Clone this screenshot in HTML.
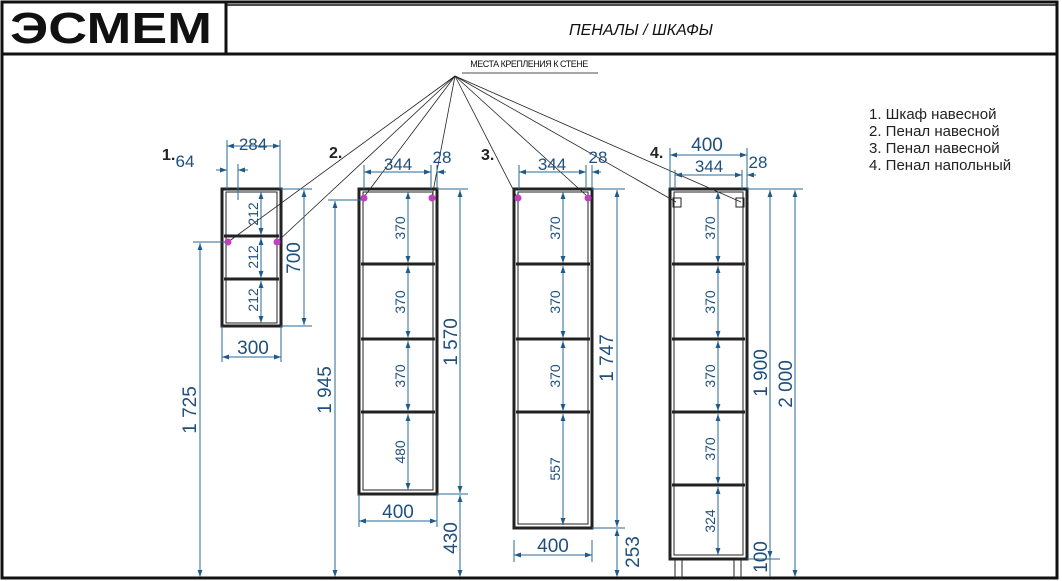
<!DOCTYPE html>
<html><head><meta charset="utf-8"><style>
html,body{margin:0;padding:0;background:#fff;}
svg{display:block;}
.d{stroke:#2a6a96;stroke-width:1;fill:none;}
.t{font-family:"Liberation Sans",sans-serif;fill:#1f4f7d;}
.c{stroke:#222;fill:none;}
</style></head><body>
<svg width="1062" height="581" viewBox="0 0 1062 581" xmlns="http://www.w3.org/2000/svg">
<defs>
<marker id="a" viewBox="0 0 10 10" refX="10" refY="5" markerWidth="7" markerHeight="7" orient="auto-start-reverse"><path d="M0,1.5 L10,5 L0,8.5 z" fill="#1f5a8a"/></marker>
</defs>
<rect x="2" y="2" width="1055" height="576" fill="none" stroke="#111" stroke-width="3"/>
<line x1="2" y1="54" x2="1057" y2="54" stroke="#111" stroke-width="3"/>
<line x1="226" y1="2" x2="226" y2="54" stroke="#111" stroke-width="3"/>
<line x1="226" y1="5" x2="1057" y2="5" stroke="#111" stroke-width="1.5"/>
<text x="10" y="43" style="font-family:'Liberation Sans',sans-serif;font-weight:bold;font-size:44px" fill="#111" textLength="202" lengthAdjust="spacingAndGlyphs">ЭСМЕМ</text>
<text x="641" y="35" text-anchor="middle" style="font-family:'Liberation Sans',sans-serif;font-style:italic;font-size:16px" fill="#111">ПЕНАЛЫ / ШКАФЫ</text>
<text x="529" y="67" text-anchor="middle" style="font-family:'Liberation Sans',sans-serif;font-size:9px;letter-spacing:-0.5px" fill="#111">МЕСТА КРЕПЛЕНИЯ К СТЕНЕ</text>
<line x1="462" y1="73" x2="598" y2="73" stroke="#111" stroke-width="0.8"/>
<g stroke="#222" stroke-width="0.8">
<line x1="455" y1="76" x2="228" y2="242"/><line x1="455" y1="76" x2="277" y2="242"/>
<line x1="455" y1="76" x2="364" y2="197"/><line x1="455" y1="76" x2="432" y2="197"/>
<line x1="455" y1="76" x2="517" y2="197"/><line x1="455" y1="76" x2="588" y2="197"/>
<line x1="455" y1="76" x2="676" y2="202"/><line x1="455" y1="76" x2="741" y2="202"/>
</g>
<g style="font-family:'Liberation Sans',sans-serif;font-size:15px" fill="#222">
<text x="869" y="119">1. Шкаф навесной</text><text x="869" y="136">2. Пенал навесной</text>
<text x="869" y="153">3. Пенал навесной</text><text x="869" y="170">4. Пенал напольный</text>
</g>
<g style="font-family:'Liberation Sans',sans-serif;font-size:16px;font-weight:bold" fill="#222">
<text x="162" y="160">1.</text><text x="329" y="158">2.</text><text x="481" y="160">3.</text><text x="650" y="158">4.</text>
</g>
<line x1="2" y1="578" x2="1057" y2="578" stroke="#111" stroke-width="3"/>

<rect x="222" y="189" width="59" height="137" class="c" stroke-width="3"/>
<rect x="226" y="192" width="51" height="131" class="c" stroke-width="1"/>
<line x1="224" y1="236" x2="279" y2="236" class="c" stroke-width="3"/>
<line x1="224" y1="279" x2="279" y2="279" class="c" stroke-width="3"/>
<circle cx="228" cy="242" r="3.5" fill="#c040c0"/><circle cx="277" cy="242" r="3.5" fill="#c040c0"/>
<rect x="359" y="189" width="78" height="305" class="c" stroke-width="3"/>
<rect x="363" y="192" width="70" height="298" class="c" stroke-width="1"/>
<line x1="361" y1="264" x2="435" y2="264" class="c" stroke-width="3"/>
<line x1="361" y1="339" x2="435" y2="339" class="c" stroke-width="3"/>
<line x1="361" y1="412" x2="435" y2="412" class="c" stroke-width="3"/>
<circle cx="364" cy="198" r="3.5" fill="#c040c0"/><circle cx="432" cy="198" r="3.5" fill="#c040c0"/>
<rect x="514" y="189" width="78" height="339" class="c" stroke-width="3"/>
<rect x="518" y="192" width="70" height="332" class="c" stroke-width="1"/>
<line x1="516" y1="264" x2="590" y2="264" class="c" stroke-width="3"/>
<line x1="516" y1="339" x2="590" y2="339" class="c" stroke-width="3"/>
<line x1="516" y1="412" x2="590" y2="412" class="c" stroke-width="3"/>
<circle cx="518" cy="198" r="3.5" fill="#c040c0"/><circle cx="588" cy="198" r="3.5" fill="#c040c0"/>
<rect x="670" y="189" width="77" height="370" class="c" stroke-width="3"/>
<rect x="674" y="192" width="69" height="363" class="c" stroke-width="1"/>
<line x1="672" y1="264" x2="745" y2="264" class="c" stroke-width="3"/>
<line x1="672" y1="339" x2="745" y2="339" class="c" stroke-width="3"/>
<line x1="672" y1="412" x2="745" y2="412" class="c" stroke-width="3"/>
<line x1="672" y1="485" x2="745" y2="485" class="c" stroke-width="3"/>
<rect x="673" y="198" width="8" height="9" class="c" stroke-width="1"/><rect x="736" y="198" width="8" height="9" class="c" stroke-width="1"/>
<rect x="675" y="560" width="7" height="18" class="c" stroke-width="1"/><rect x="734" y="560" width="7" height="18" class="c" stroke-width="1"/>

<g class="d">
<line x1="227" y1="140" x2="227" y2="189"/><line x1="280" y1="140" x2="280" y2="189"/>
<line x1="227" y1="146" x2="280" y2="146" marker-start="url(#a)" marker-end="url(#a)"/>
<line x1="238" y1="164" x2="238" y2="200"/>
<line x1="216" y1="170" x2="227" y2="170" marker-end="url(#a)"/><line x1="238" y1="170" x2="248" y2="170" marker-start="url(#a)"/>
<line x1="281" y1="189" x2="312" y2="189"/><line x1="281" y1="326" x2="312" y2="326"/>
<line x1="304" y1="190" x2="304" y2="325" marker-start="url(#a)" marker-end="url(#a)"/>
<line x1="261" y1="192" x2="261" y2="235" marker-start="url(#a)" marker-end="url(#a)"/>
<line x1="261" y1="238" x2="261" y2="278" marker-start="url(#a)" marker-end="url(#a)"/>
<line x1="261" y1="281" x2="261" y2="323" marker-start="url(#a)" marker-end="url(#a)"/>
<line x1="222" y1="326" x2="222" y2="362"/><line x1="281" y1="326" x2="281" y2="362"/>
<line x1="222" y1="357" x2="281" y2="357" marker-start="url(#a)" marker-end="url(#a)"/>
<line x1="193" y1="242" x2="226" y2="242"/>
<line x1="200" y1="243" x2="200" y2="577" marker-start="url(#a)" marker-end="url(#a)"/>
<line x1="364" y1="165" x2="364" y2="189"/><line x1="431" y1="165" x2="431" y2="189"/><line x1="437" y1="165" x2="437" y2="189"/>
<line x1="364" y1="172" x2="431" y2="172" marker-start="url(#a)" marker-end="url(#a)"/>
<line x1="437" y1="172" x2="446" y2="172" marker-start="url(#a)"/>
<line x1="437" y1="189" x2="468" y2="189"/><line x1="437" y1="494" x2="468" y2="494"/>
<line x1="460" y1="190" x2="460" y2="493" marker-start="url(#a)" marker-end="url(#a)"/>
<line x1="460" y1="495" x2="460" y2="577" marker-start="url(#a)" marker-end="url(#a)"/>
<line x1="328" y1="200" x2="362" y2="200"/>
<line x1="335" y1="201" x2="335" y2="577" marker-start="url(#a)" marker-end="url(#a)"/>
<line x1="408" y1="192" x2="408" y2="263" marker-start="url(#a)" marker-end="url(#a)"/>
<line x1="408" y1="266" x2="408" y2="338" marker-start="url(#a)" marker-end="url(#a)"/>
<line x1="408" y1="341" x2="408" y2="411" marker-start="url(#a)" marker-end="url(#a)"/>
<line x1="408" y1="414" x2="408" y2="490" marker-start="url(#a)" marker-end="url(#a)"/>
<line x1="359" y1="494" x2="359" y2="527"/><line x1="437" y1="494" x2="437" y2="527"/>
<line x1="359" y1="521" x2="437" y2="521" marker-start="url(#a)" marker-end="url(#a)"/>
<line x1="519" y1="165" x2="519" y2="189"/><line x1="586" y1="165" x2="586" y2="189"/><line x1="592" y1="165" x2="592" y2="189"/>
<line x1="519" y1="172" x2="586" y2="172" marker-start="url(#a)" marker-end="url(#a)"/>
<line x1="592" y1="172" x2="601" y2="172" marker-start="url(#a)"/>
<line x1="592" y1="189" x2="625" y2="189"/><line x1="592" y1="528" x2="625" y2="528"/>
<line x1="617" y1="190" x2="617" y2="527" marker-start="url(#a)" marker-end="url(#a)"/>
<line x1="617" y1="529" x2="617" y2="577" marker-start="url(#a)" marker-end="url(#a)"/>
<line x1="563" y1="192" x2="563" y2="263" marker-start="url(#a)" marker-end="url(#a)"/>
<line x1="563" y1="266" x2="563" y2="338" marker-start="url(#a)" marker-end="url(#a)"/>
<line x1="563" y1="341" x2="563" y2="411" marker-start="url(#a)" marker-end="url(#a)"/>
<line x1="563" y1="414" x2="563" y2="525" marker-start="url(#a)" marker-end="url(#a)"/>
<line x1="514" y1="540" x2="514" y2="562"/><line x1="592" y1="540" x2="592" y2="562"/>
<line x1="514" y1="555" x2="592" y2="555" marker-start="url(#a)" marker-end="url(#a)"/>
<line x1="670" y1="148" x2="670" y2="189"/><line x1="747" y1="148" x2="747" y2="189"/>
<line x1="670" y1="155" x2="747" y2="155" marker-start="url(#a)" marker-end="url(#a)"/>
<line x1="675" y1="170" x2="675" y2="189"/><line x1="742" y1="170" x2="742" y2="189"/>
<line x1="675" y1="175" x2="742" y2="175" marker-start="url(#a)" marker-end="url(#a)"/>
<line x1="747" y1="175" x2="756" y2="175" marker-start="url(#a)"/>
<line x1="747" y1="189" x2="803" y2="189"/>
<line x1="770" y1="190" x2="770" y2="577" marker-start="url(#a)"/>
<line x1="795" y1="190" x2="795" y2="577" marker-start="url(#a)" marker-end="url(#a)"/>
<line x1="747" y1="559" x2="780" y2="559"/>
<line x1="770" y1="545" x2="770" y2="558" marker-end="url(#a)"/>
<line x1="718" y1="192" x2="718" y2="263" marker-start="url(#a)" marker-end="url(#a)"/>
<line x1="718" y1="266" x2="718" y2="338" marker-start="url(#a)" marker-end="url(#a)"/>
<line x1="718" y1="341" x2="718" y2="411" marker-start="url(#a)" marker-end="url(#a)"/>
<line x1="718" y1="414" x2="718" y2="484" marker-start="url(#a)" marker-end="url(#a)"/>
<line x1="718" y1="487" x2="718" y2="555" marker-start="url(#a)" marker-end="url(#a)"/>
</g>

<g class="t" style="font-size:17px" text-anchor="middle">
<text x="253" y="150">284</text>
<text x="185" y="167">64</text>
<text x="253" y="354" style="font-size:19px">300</text>
<text x="398" y="170">344</text><text x="442" y="163">28</text>
<text x="398" y="518" style="font-size:19px">400</text>
<text x="552" y="170">344</text><text x="598" y="163">28</text>
<text x="553" y="552" style="font-size:19px">400</text>
<text x="707" y="151" style="font-size:19px">400</text>
<text x="709" y="172">344</text><text x="758" y="168">28</text>
</g>
<g class="t" text-anchor="middle">
<text transform="translate(258,214) rotate(-90)" style="font-size:14px">212</text>
<text transform="translate(258,257) rotate(-90)" style="font-size:14px">212</text>
<text transform="translate(258,300) rotate(-90)" style="font-size:14px">212</text>
<text transform="translate(300,258) rotate(-90)" style="font-size:19px">700</text>
<text transform="translate(196,410) rotate(-90)" style="font-size:19px">1 725</text>
<text transform="translate(331,390) rotate(-90)" style="font-size:19px">1 945</text>
<text transform="translate(457,342) rotate(-90)" style="font-size:19px">1 570</text>
<text transform="translate(457,538) rotate(-90)" style="font-size:19px">430</text>
<text transform="translate(405,228) rotate(-90)" style="font-size:14px">370</text>
<text transform="translate(405,302) rotate(-90)" style="font-size:14px">370</text>
<text transform="translate(405,376) rotate(-90)" style="font-size:14px">370</text>
<text transform="translate(405,452) rotate(-90)" style="font-size:14px">480</text>
<text transform="translate(560,228) rotate(-90)" style="font-size:14px">370</text>
<text transform="translate(560,302) rotate(-90)" style="font-size:14px">370</text>
<text transform="translate(560,376) rotate(-90)" style="font-size:14px">370</text>
<text transform="translate(560,469) rotate(-90)" style="font-size:14px">557</text>
<text transform="translate(613,358) rotate(-90)" style="font-size:19px">1 747</text>
<text transform="translate(639,552) rotate(-90)" style="font-size:19px">253</text>
<text transform="translate(715,228) rotate(-90)" style="font-size:14px">370</text>
<text transform="translate(715,302) rotate(-90)" style="font-size:14px">370</text>
<text transform="translate(715,376) rotate(-90)" style="font-size:14px">370</text>
<text transform="translate(715,449) rotate(-90)" style="font-size:14px">370</text>
<text transform="translate(715,521) rotate(-90)" style="font-size:14px">324</text>
<text transform="translate(767,373) rotate(-90)" style="font-size:19px">1 900</text>
<text transform="translate(792,384) rotate(-90)" style="font-size:19px">2 000</text>
<text transform="translate(767,557) rotate(-90)" style="font-size:19px">100</text>
</g>
</svg>
</body></html>
